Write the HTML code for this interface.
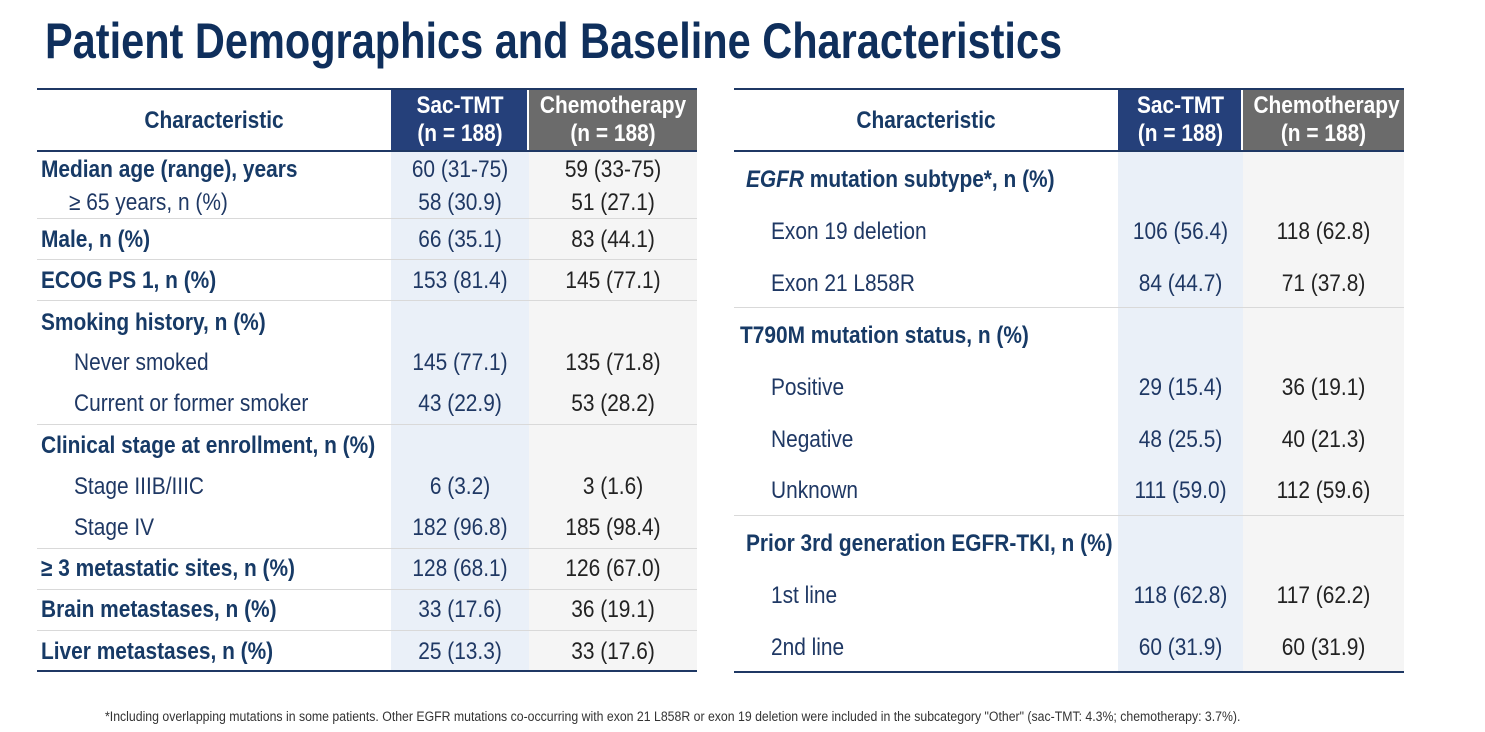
<!DOCTYPE html>
<html><head><meta charset="utf-8"><style>
body{margin:0;width:1485px;height:732px;background:#fff;position:relative;overflow:hidden;font-family:"Liberation Sans Narrow","Liberation Sans",sans-serif;}
.a{position:absolute;}
.t{position:absolute;white-space:nowrap;font-size:24px;line-height:28px;transform:translateY(-14px) scaleX(0.87);transform-origin:left center;}
.ctr{transform-origin:center center;}
.b{font-weight:bold;color:#173a66;}
.n{color:#1f3864;}
.c{color:#222;}
.h{color:#fff;font-weight:bold;font-size:24px;line-height:28px;text-align:center;transform:scaleX(0.87);}
</style></head><body>
<div class="a" style="left:45px;top:12px;font-weight:bold;font-size:50px;color:#0f2f5c;white-space:nowrap;transform:scaleX(0.83);transform-origin:left top;">Patient Demographics and Baseline Characteristics</div>
<div id="root"></div>
<div class="a" style="left:105px;top:709px;font-size:13.5px;color:#333;white-space:nowrap;transform:scaleX(0.91);transform-origin:left top;">*Including overlapping mutations in some patients. Other EGFR mutations co-occurring with exon 21 L858R or exon 19 deletion were included in the subcategory "Other" (sac-TMT: 4.3%; chemotherapy: 3.7%).</div>
<script>
const tables=[
 {x:37,w:660,c1:391,c2:529,name:'demographics-table',
  groups:[[151,218],[218,259],[259,300],[300,424],[424,548],[548,589],[589,630],[630,671]],
  rows:[
   [170,'Median age (range), years',1,'60 (31-75)','59 (33-75)'],
   [203,'≥ 65 years, n (%)',2,'58 (30.9)','51 (27.1)'],
   [240,'Male, n (%)',1,'66 (35.1)','83 (44.1)'],
   [281,'ECOG PS 1, n (%)',1,'153 (81.4)','145 (77.1)'],
   [323,'Smoking history, n (%)',1,'',''],
   [363,'Never smoked',3,'145 (77.1)','135 (71.8)'],
   [404,'Current or former smoker',3,'43 (22.9)','53 (28.2)'],
   [446,'Clinical stage at enrollment, n (%)',1,'',''],
   [487,'Stage IIIB/IIIC',3,'6 (3.2)','3 (1.6)'],
   [528,'Stage IV',3,'182 (96.8)','185 (98.4)'],
   [569,'≥ 3 metastatic sites, n (%)',1,'128 (68.1)','126 (67.0)'],
   [610,'Brain metastases, n (%)',1,'33 (17.6)','36 (19.1)'],
   [652,'Liver metastases, n (%)',1,'25 (13.3)','33 (17.6)']]},
 {x:734,w:670,c1:1118,c2:1243,name:'mutation-table',
  groups:[[151,307],[307,515],[515,672]],
  rows:[
   [180,'<i>EGFR</i> mutation subtype*, n (%)',1,'',''],
   [232,'Exon 19 deletion',4,'106 (56.4)','118 (62.8)'],
   [284,'Exon 21 L858R',4,'84 (44.7)','71 (37.8)'],
   [336,'T790M mutation status, n (%)',1,'',''],
   [388,'Positive',4,'29 (15.4)','36 (19.1)'],
   [440,'Negative',4,'48 (25.5)','40 (21.3)'],
   [491,'Unknown',4,'111 (59.0)','112 (59.6)'],
   [544,'Prior 3rd generation EGFR-TKI, n (%)',1,'',''],
   [596,'1st line',4,'118 (62.8)','117 (62.2)'],
   [648,'2nd line',4,'60 (31.9)','60 (31.9)']]}
];
const root=document.getElementById('root');
function mk(cls,style,html){const d=document.createElement('div');d.className=cls;d.style.cssText=style;if(html!==undefined)d.innerHTML=html;root.appendChild(d);return d;}
tables.forEach((T,ti)=>{
 const r=T.x+T.w, bot=T.groups[T.groups.length-1][1];
 let e=mk('a',`left:${T.c1}px;top:151px;width:${T.c2-T.c1}px;height:${bot-151}px;background:#eaf0f8;`);
 
 
 e=mk('a',`left:${T.c2}px;top:151px;width:${r-T.c2}px;height:${bot-151}px;background:#f5f5f5;`);
 
 
 e=mk('a',`left:${T.c1}px;top:89px;width:${T.c2-T.c1-2}px;height:62px;background:#25407a;`);
 
 
 e=mk('a',`left:${T.c2}px;top:89px;width:${r-T.c2}px;height:62px;background:#6b6b6b;`);
 
 
 e=mk('a h',`left:${T.c1}px;top:92px;width:${T.c2-T.c1}px;`,'Sac-TMT<br>(n = 188)');
 
 
 e=mk('a h',`left:${T.c2}px;top:92px;width:${r-T.c2}px;`,'Chemotherapy<br>(n = 188)');
 
 
 e=mk('a b',`left:${T.x}px;top:107px;width:${T.c1-T.x}px;text-align:center;font-size:24px;transform:scaleX(0.87);`,'Characteristic');
 
 
 e=mk('a',`left:${T.x}px;top:88px;width:${T.w}px;height:2px;background:#1f3864;`);
 
 
 e=mk('a',`left:${T.x}px;top:150px;width:${T.w}px;height:2px;background:#1f3864;`);
 
 
 T.groups.forEach((g,i)=>{
  if(i===T.groups.length-1)return;
  const s=mk('a',`left:${T.x}px;top:${g[1]}px;width:${T.w}px;height:1px;background:#d9d9d9;`);
  
  
 });
 e=mk('a',`left:${T.x}px;top:${bot-1}px;width:${T.w}px;height:2px;background:#1f3864;`);
 
 
 T.rows.forEach(rw=>{
  const [y,lab,lvl,v1,v2]=rw;
  const ind={1:4,2:32,3:37,4:37}[lvl]+(ti===1&&lvl===1?(lab.startsWith('<i>')||lab.startsWith('Prior')?8:2):0);
  const l=mk('t '+(lvl===1?'b':'n'),`left:${T.x+ind}px;top:${y}px;`,lab);
  
  
  if(v1){
   const a=mk('t n ctr',`left:${T.c1}px;top:${y}px;width:${T.c2-T.c1}px;text-align:center;`,v1);
   
   
   const b=mk('t c ctr',`left:${T.c2}px;top:${y}px;width:${r-T.c2}px;text-align:center;`,v2);
   
   
  }
 });
});
</script>
</body></html>
